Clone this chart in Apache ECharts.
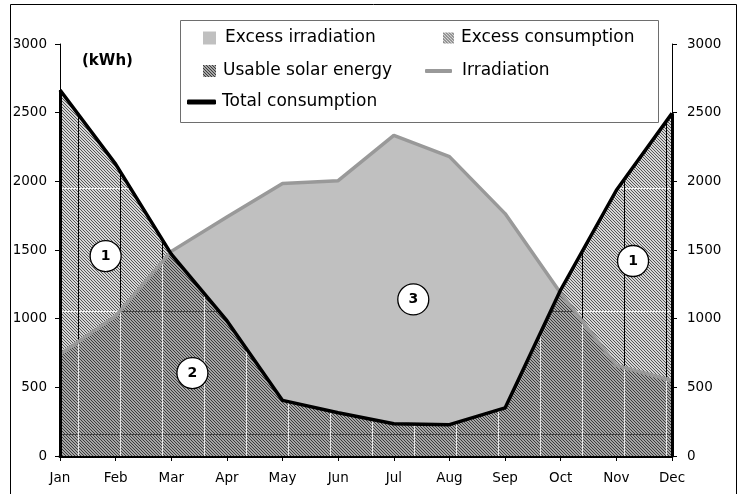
<!DOCTYPE html>
<html>
<head>
<meta charset="utf-8">
<script src="https://cdn.jsdelivr.net/npm/echarts@6/dist/echarts.min.js"></script>
<style>
  html, body { margin: 0; padding: 0; background: #fff; }
  #chart { width: 739px; height: 494px; }
</style>
</head>
<body>
<div id="chart"></div>
<script>
// data (kWh per month)
const months = ['Jan', 'Feb', 'Mar', 'Apr', 'May', 'Jun', 'Jul', 'Aug', 'Sep', 'Oct', 'Nov', 'Dec']
const irradiation = [740, 1020, 1490, 1740, 1985, 2005, 2335, 2180, 1765, 1185, 660, 550]
const consumption = [2665, 2125, 1470, 985, 405, 315, 235, 228, 350, 1210, 1935, 2495]
const yTicks = [0, 500, 1000, 1500, 2000, 2500, 3000]

// numbered circles (month index, kWh, label)
const badgeX = [0.82, 2.38, 6.35, 10.30]
const badgeY = [1456, 604, 1140, 1420]
const badgeText = ['1', '2', '3', '1']

const FONT = 'DejaVu Sans'

// diagonal hatch tile, optionally with the seam lines the original pattern shows
function hatch (dark, light, seam) {
  const w = seam ? 42 : 6
  const h = seam ? 123 : 6
  const c = document.createElement('canvas')
  c.width = w
  c.height = h
  const ctx = c.getContext('2d')
  for (let y = 0; y < h; y++) {
    for (let x = 0; x < w; x++) {
      let col = (((x - y) % 3) + 3) % 3 === 0 ? dark : light
      if (seam && y === 65) col = seam.h
      if (seam && x === 36) col = seam.v
      ctx.fillStyle = col
      ctx.fillRect(x, y, 1, 1)
    }
  }
  return { image: c, repeat: 'repeat' }
}

const consHatch = hatch('#555', '#d6d6d6', { v: '#000', h: '#f4f4f4' })
const usableHatch = hatch('#3c3c3c', '#a6a6a6', { v: '#e6e6e6', h: '#444' })
const consIcon = hatch('#555', '#d6d6d6')
const usableIcon = hatch('#3c3c3c', '#a6a6a6')

const chart = echarts.init(document.getElementById('chart'), null, { renderer: 'canvas' })

// area below both curves: built in pixel space from the two lines
function renderUsable (params, api) {
  if (params.dataIndex !== 0) return null
  const pts = []
  const n = months.length
  for (let i = 0; i < n; i++) {
    const a = api.coord([i, irradiation[i]])
    const b = api.coord([i, consumption[i]])
    pts.push(irradiation[i] <= consumption[i] ? a : b)
    if (i < n - 1) {
      const d0 = irradiation[i] - consumption[i]
      const d1 = irradiation[i + 1] - consumption[i + 1]
      if (d0 * d1 < 0) {
        const t = d0 / (d0 - d1)
        const a1 = api.coord([i + 1, irradiation[i + 1]])
        pts.push([a[0] + (a1[0] - a[0]) * t, a[1] + (a1[1] - a[1]) * t])
      }
    }
  }
  pts.push(api.coord([n - 1, 0]))
  pts.push(api.coord([0, 0]))
  return {
    type: 'polygon',
    shape: { points: pts },
    style: { fill: usableHatch }
  }
}

function legendItem (name, left, centerY, w, h, icon, color, pad) {
  return {
    left: left,
    top: centerY - 10,
    padding: 0,
    itemWidth: w,
    itemHeight: h,
    selectedMode: false,
    textStyle: { fontFamily: FONT, fontSize: 17, color: '#000', lineHeight: 20, padding: [0, 0, 0, pad] },
    data: [{ name: name, icon: icon, itemStyle: { color: color, borderWidth: 0 } }]
  }
}

const option = {
  animation: false,
  backgroundColor: '#fff',
  grid: { left: 60, right: 67, top: 44, bottom: 38 },
  legend: [
    legendItem('Excess irradiation', 203, 38, 13, 13, 'rect', '#c0c0c0', 4),
    legendItem('Excess consumption', 443, 38, 11, 11, 'rect', consIcon, 2),
    legendItem('Usable solar energy', 203, 71, 13, 12, 'rect', usableIcon, 2),
    legendItem('Irradiation', 425, 71, 27, 4, 'roundRect', '#999', 5),
    legendItem('Total consumption', 187, 102, 29, 5, 'roundRect', '#000', 1)
  ],
  graphic: [
    { type: 'rect', z: -1, shape: { x: 10.5, y: 4.5, width: 726, height: 500 }, style: { fill: '#fff', stroke: '#000', lineWidth: 1 } },
    { type: 'rect', z: 0, shape: { x: 180.5, y: 20.5, width: 478, height: 102 }, style: { fill: '#fff', stroke: '#6e6e6e', lineWidth: 1 } },
    { type: 'text', z: 5, left: 82, top: 54, style: { text: '(kWh)', font: 'bold 15px "DejaVu Sans"', fill: '#000' } }
  ],
  xAxis: {
    type: 'value',
    min: 0,
    max: months.length - 1,
    interval: 1,
    splitLine: { show: false },
    axisLine: { show: true, lineStyle: { color: '#000', width: 3 } },
    axisTick: { show: true, length: 5, lineStyle: { color: '#000', width: 1 } },
    axisLabel: {
      margin: 15,
      fontFamily: FONT,
      fontSize: 13.5,
      color: '#000',
      showMinLabel: true,
      showMaxLabel: true,
      formatter: v => months[v]
    }
  },
  yAxis: [0, 1].map(k => ({
    type: 'value',
    position: k === 0 ? 'left' : 'right',
    min: yTicks[0],
    max: yTicks[yTicks.length - 1],
    interval: yTicks[1] - yTicks[0],
    splitLine: { show: false },
    axisLine: { show: true, onZero: false, lineStyle: { color: '#000', width: 1 } },
    axisTick: { show: true, length: 5, lineStyle: { color: '#000', width: 1 } },
    axisLabel: {
      margin: k === 0 ? 13 : 15,
      fontFamily: FONT,
      fontSize: 13.5,
      color: '#000',
      formatter: v => String(v)
    }
  })),
  series: [
    {
      name: 'Excess irradiation',
      type: 'line',
      data: irradiation.map((v, i) => [i, v]),
      symbol: 'none',
      lineStyle: { width: 0, opacity: 0 },
      itemStyle: { color: '#c0c0c0' },
      areaStyle: { color: '#c0c0c0', opacity: 1, origin: 'start' },
      z: 1
    },
    {
      name: 'Excess consumption',
      type: 'line',
      data: consumption.map((v, i) => [i, v]),
      symbol: 'none',
      lineStyle: { width: 0, opacity: 0 },
      itemStyle: { color: consIcon },
      areaStyle: { color: consHatch, opacity: 1, origin: 'start' },
      z: 2
    },
    {
      name: 'Usable solar energy',
      type: 'custom',
      data: irradiation.map((v, i) => [i, v, consumption[i]]),
      encode: { x: 0, y: [1, 2] },
      itemStyle: { color: usableIcon },
      renderItem: renderUsable,
      z: 3
    },
    {
      name: 'Irradiation',
      type: 'line',
      data: irradiation.map((v, i) => [i, v]),
      symbol: 'none',
      itemStyle: { color: '#999' },
      lineStyle: { color: '#999', width: 3.5 },
      z: 4
    },
    {
      name: 'Total consumption',
      type: 'line',
      data: consumption.map((v, i) => [i, v]),
      symbol: 'none',
      itemStyle: { color: '#000' },
      lineStyle: { color: '#000', width: 3.5, join: 'round' },
      markLine: {
        silent: true,
        symbol: 'none',
        label: { show: false },
        lineStyle: { color: '#000', width: 3, type: 'solid' },
        data: [
          [{ coord: [0, 0] }, { coord: [0, consumption[0]] }],
          [{ coord: [months.length - 1, 0] }, { coord: [months.length - 1, consumption[months.length - 1]] }]
        ]
      },
      z: 5
    },
    {
      name: 'badges',
      type: 'scatter',
      data: badgeX.map((x, i) => [x, badgeY[i], badgeText[i]]),
      symbol: 'circle',
      symbolSize: 31,
      itemStyle: { color: '#fff', borderColor: '#000', borderWidth: 1.3, opacity: 1 },
      label: {
        show: true,
        position: 'inside',
        formatter: p => p.value[2],
        fontFamily: FONT,
        fontWeight: 'bold',
        fontSize: 14,
        color: '#000'
      },
      z: 6
    }
  ]
}

chart.setOption(option)
</script>
</body>
</html>
